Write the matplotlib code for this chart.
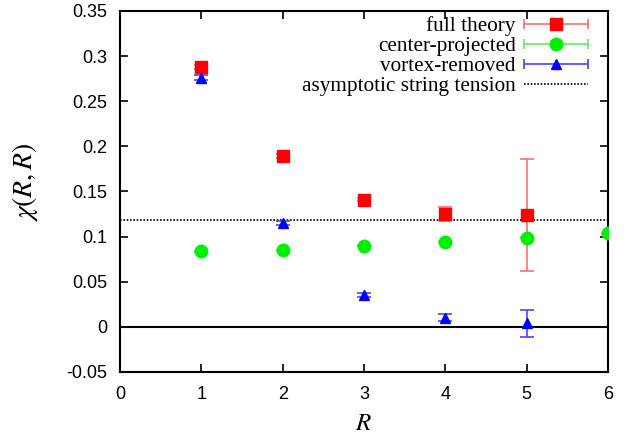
import numpy as np
import matplotlib.pyplot as plt
from matplotlib.lines import Line2D
from matplotlib.legend_handler import HandlerBase

plt.rcParams['mathtext.fontset'] = 'stix'

# data
R_full = [1, 2, 3, 4, 5]
chi_full = [0.288, 0.189, 0.141, 0.125, 0.124]
err_full = [0.002, 0.002, 0.002, 0.008, 0.062]

R_center = [1, 2, 3, 4, 5, 6]
chi_center = [0.084, 0.085, 0.090, 0.0945, 0.099, 0.104]
err_center = [0.0005, 0.0005, 0.0005, 0.0005, 0.0005, 0.0005]

R_vortex = [1, 2, 3, 4, 5]
chi_vortex = [0.276, 0.115, 0.035, 0.010, 0.004]
err_vortex = [0.003, 0.002, 0.002, 0.004, 0.015]

sigma_asym = 0.118

series = [
    ("full theory", R_full, chi_full, err_full, 'red', '#ff7070', 's', 9),
    ("center-projected", R_center, chi_center, err_center, '#00ee00', '#60ee60', 'o', 9),
    ("vortex-removed", R_vortex, chi_vortex, err_vortex, 'blue', '#4848ff', '^', 7),
]


class ErrKey:
    def __init__(self, color, ecolor, marker, ms):
        self.color, self.ecolor, self.marker, self.ms = color, ecolor, marker, ms


class ErrHandler(HandlerBase):
    def create_artists(self, legend, h, xdescent, ydescent, width, height, fontsize, trans):
        y = height / 2 - ydescent
        x0, x1 = -xdescent, width - xdescent
        line = Line2D([x0, x1], [y, y], color=h.ecolor, lw=1.2, marker='|', ms=7,
                      mew=1.2, transform=trans)
        mk = Line2D([(x0 + x1) / 2], [y], color=h.color, marker=h.marker, ms=h.ms,
                    ls='none', transform=trans)
        return [line, mk]


fig = plt.figure(figsize=(6.29, 4.38), dpi=100)
ax = fig.add_axes([120 / 629, 1 - 372 / 438, 488 / 629, 361 / 438])

handles, labels = [], []
for name, x, y, e, c, ec, m, ms in series:
    ax.errorbar(x, y, yerr=e, fmt=m, color=c, mec=c, ms=ms, ecolor=ec, elinewidth=1.2,
                capsize=5, capthick=1.2, zorder=3)
    handles.append(ErrKey(c, ec, m, ms))
    labels.append(name)

ax.axhline(0, color='black', lw=1.5, zorder=1)
asym = ax.axhline(sigma_asym, color='black', lw=1.2, ls=(0, (1, 1)), zorder=1)
handles.append(asym)
labels.append("asymptotic string tension")

ax.set_xlim(0, 6)
ax.set_ylim(-0.05, 0.35)
ax.set_xticks(np.arange(0, 7, 1))
ax.set_yticks(np.arange(-0.05, 0.351, 0.05))
ax.set_yticklabels(['-0.05', '0', '0.05', '0.1', '0.15', '0.2', '0.25', '0.3', '0.35'])
ax.tick_params(direction='in', top=True, right=True, length=6, width=1.2,
               labelsize=13)
ax.tick_params(axis='y', pad=9)
ax.tick_params(axis='x', pad=10)
for lab in ax.get_xticklabels() + ax.get_yticklabels():
    lab.set_family('Liberation Sans')
for s in ax.spines.values():
    s.set_linewidth(1.5)

ax.set_xlabel(r'$R$', fontsize=18)
ax.xaxis.set_label_coords(0.5, -0.108)
ax.set_ylabel(r'$\chi(R,R)$', fontsize=20)
ax.yaxis.set_label_coords(-0.164, 0.526)

leg = ax.legend(handles, labels, handler_map={ErrKey: ErrHandler()}, loc='upper right',
                markerfirst=False, frameon=False, prop={'family': 'Liberation Serif', 'size': 15.3},
                handlelength=3.0, handletextpad=0.4, labelspacing=0.0,
                borderaxespad=0.2, bbox_to_anchor=(0.985, 1.02))
for t in leg.get_texts():
    t.set_ha('right')
leg._legend_box.align = 'right'

fig.savefig('out.png', dpi=100)
